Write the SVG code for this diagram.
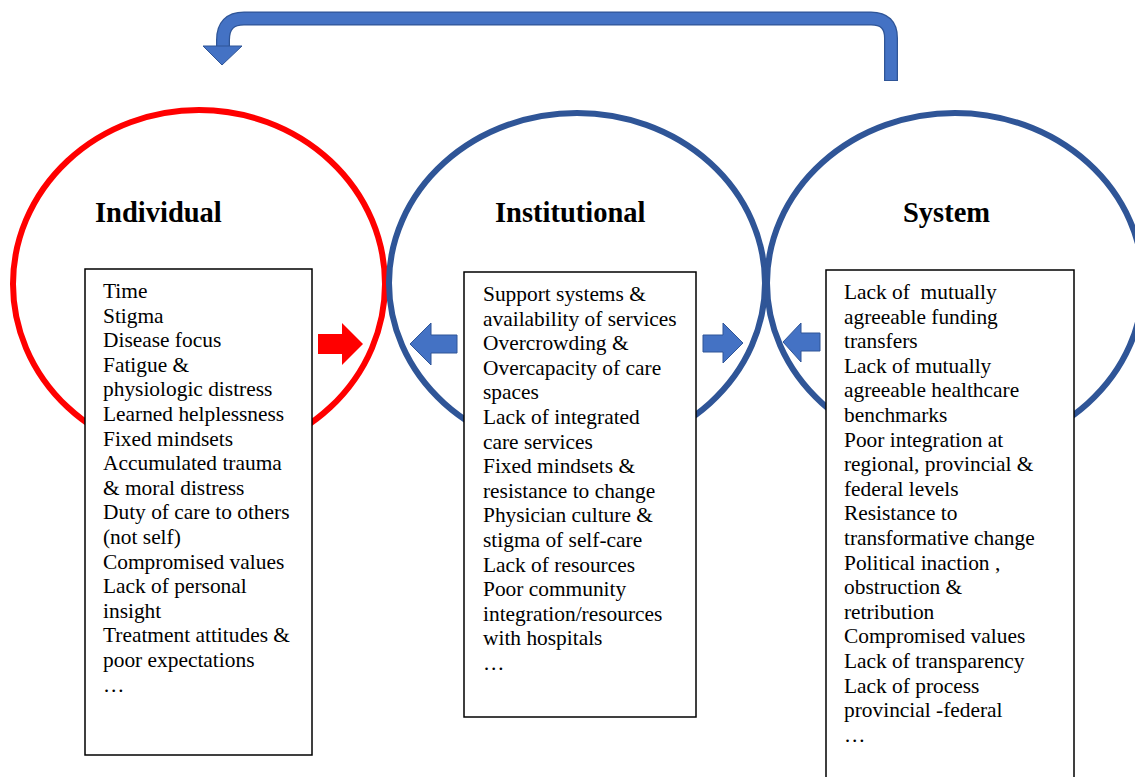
<svg xmlns="http://www.w3.org/2000/svg" width="1135" height="777" viewBox="0 0 1135 777">
<style>
.ring{fill:none;stroke-width:6}
.red{stroke:#FF0000}
.blue{stroke:#2F5597}
.box{fill:#fff;stroke:#000;stroke-width:1.5}
.title{font-family:"Liberation Serif","Times New Roman",serif;font-weight:bold;font-size:28.5px;fill:#000}
.body{font-family:"Liberation Serif","Times New Roman",serif;font-size:21.4px;fill:#000}
.barr{fill:#4472C4;stroke:#2F5597;stroke-width:1}
.rarr{fill:#FF0000}
</style>
<rect width="1135" height="777" fill="#fff"/>
<g id="individual">
<ellipse class="ring red" cx="199" cy="284" rx="186" ry="174"/>
<text class="title" x="95" y="222">Individual</text>
<rect class="box" x="85" y="269" width="227" height="486"/>
<text class="body" x="103" y="298"><tspan x="103" dy="0">Time</tspan><tspan x="103" dy="24.6">Stigma</tspan><tspan x="103" dy="24.6">Disease focus</tspan><tspan x="103" dy="24.6">Fatigue &amp;</tspan><tspan x="103" dy="24.6">physiologic distress</tspan><tspan x="103" dy="24.6">Learned helplessness</tspan><tspan x="103" dy="24.6">Fixed mindsets</tspan><tspan x="103" dy="24.6">Accumulated trauma</tspan><tspan x="103" dy="24.6">&amp; moral distress</tspan><tspan x="103" dy="24.6">Duty of care to others</tspan><tspan x="103" dy="24.6">(not self)</tspan><tspan x="103" dy="24.6">Compromised values</tspan><tspan x="103" dy="24.6">Lack of personal</tspan><tspan x="103" dy="24.6">insight</tspan><tspan x="103" dy="24.6">Treatment attitudes &amp;</tspan><tspan x="103" dy="24.6">poor expectations</tspan><tspan x="103" dy="24.6">…</tspan></text>
</g>
<g id="institutional">
<ellipse class="ring blue" cx="577" cy="283" rx="188" ry="170"/>
<text class="title" x="495" y="222">Institutional</text>
<rect class="box" x="464" y="272" width="232" height="445"/>
<text class="body" x="483" y="301"><tspan x="483" dy="0">Support systems &amp;</tspan><tspan x="483" dy="24.6">availability of services</tspan><tspan x="483" dy="24.6">Overcrowding &amp;</tspan><tspan x="483" dy="24.6">Overcapacity of care</tspan><tspan x="483" dy="24.6">spaces</tspan><tspan x="483" dy="24.6">Lack of integrated</tspan><tspan x="483" dy="24.6">care services</tspan><tspan x="483" dy="24.6">Fixed mindsets &amp;</tspan><tspan x="483" dy="24.6">resistance to change</tspan><tspan x="483" dy="24.6">Physician culture &amp;</tspan><tspan x="483" dy="24.6">stigma of self-care</tspan><tspan x="483" dy="24.6">Lack of resources</tspan><tspan x="483" dy="24.6">Poor community</tspan><tspan x="483" dy="24.6">integration/resources</tspan><tspan x="483" dy="24.6">with hospitals</tspan><tspan x="483" dy="24.6">…</tspan></text>
</g>
<g id="system">
<ellipse class="ring blue" cx="955" cy="283" rx="188" ry="170"/>
<text class="title" x="903" y="222">System</text>
<rect class="box" x="826" y="270" width="248" height="520"/>
<text class="body" x="844" y="299" xml:space="preserve"><tspan x="844" dy="0">Lack of  mutually</tspan><tspan x="844" dy="24.6">agreeable funding</tspan><tspan x="844" dy="24.6">transfers</tspan><tspan x="844" dy="24.6">Lack of mutually</tspan><tspan x="844" dy="24.6">agreeable healthcare</tspan><tspan x="844" dy="24.6">benchmarks</tspan><tspan x="844" dy="24.6">Poor integration at</tspan><tspan x="844" dy="24.6">regional, provincial &amp;</tspan><tspan x="844" dy="24.6">federal levels</tspan><tspan x="844" dy="24.6">Resistance to</tspan><tspan x="844" dy="24.6">transformative change</tspan><tspan x="844" dy="24.6">Political inaction ,</tspan><tspan x="844" dy="24.6">obstruction &amp;</tspan><tspan x="844" dy="24.6">retribution</tspan><tspan x="844" dy="24.6">Compromised values</tspan><tspan x="844" dy="24.6">Lack of transparency</tspan><tspan x="844" dy="24.6">Lack of process</tspan><tspan x="844" dy="24.6">provincial -federal</tspan><tspan x="844" dy="24.6">…</tspan></text>
</g>
<g id="connectors">
<polygon class="rarr" points="318,334 342,334 342,323 363,344 342,365 342,354 318,354"/>
<polygon class="barr" points="457,335 431,335 431,323 410,344 431,365 431,353 457,353"/>
<polygon class="barr" points="703,335 723,335 723,323 743,343 723,363 723,352 703,352"/>
<polygon class="barr" points="820,333 801,333 801,323 783,342 801,362 801,351 820,351"/>
<path d="M891,81 V38 Q891,18.5 871,18.5 H244 Q223,18.5 223,40 V47" fill="none" stroke="#2F5597" stroke-width="14"/>
<path d="M891,80 V38 Q891,18.5 871,18.5 H244 Q223,18.5 223,40 V48" fill="none" stroke="#4472C4" stroke-width="11.5"/>
<polygon class="barr" points="203,46 242,46 222,65"/>
</g>
</svg>
